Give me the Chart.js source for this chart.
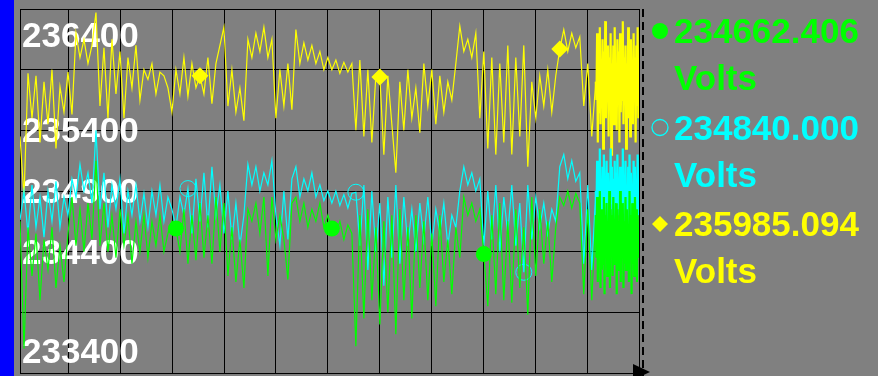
<!DOCTYPE html>
<html>
<head>
<meta charset="utf-8">
<script src="https://cdn.jsdelivr.net/npm/chart.js@4"></script>
<style>
    html, body { margin: 0; padding: 0; background: #808080; }
    canvas { display: block; }
</style>
</head>
<body>
<canvas id="voltChart" width="878" height="376"></canvas>
<script>
// tick labels written inside the plot (233900 / 235900 have no label)
const yTickLabels = ['236400', '235400', '234900', '234400', '233400'];
const seriesNames = ['Phase A', 'Phase B', 'Phase C'];
const legendValues = ['234662.406', '234840.000', '235985.094'];
const legendUnit = 'Volts';

// readings, one every sample up to the burst at the right edge
const greenValues = [
    234650, 233600, 234600, 234200, 234550, 234000, 234500, 234250, 234600, 234100,
    234450, 234150, 234550, 234850, 234450, 234750, 234400, 234800, 234500, 235150,
    234450, 234800, 234400, 234700, 234350, 234750, 234450, 234700, 234300, 234650,
    234400, 234700, 234350, 234650, 234450, 234700, 234400, 234550, 234650, 234590,
    234400, 234750, 234300, 234700, 234330, 234800, 234350, 234700, 234300, 234850,
    234400, 234800, 234200, 234600, 234150, 234500, 234100, 234750, 234650, 234800,
    234550, 234850, 234200, 234850, 234500, 234700, 234500, 234170, 234800, 234850,
    234650, 234800, 234600, 234750, 234650, 234800, 234600, 234700, 234590, 234550,
    234650, 234500, 234620, 234550, 233620, 234700, 233850, 234750, 234000, 234600,
    233800, 234650, 233900, 234700, 233720, 234750, 234000, 234600, 233850, 234700,
    234100, 234650, 234000, 234550, 233950, 234700, 234150, 234500, 234050, 234600,
    234350, 234850, 234700, 234800, 234650, 234750, 234380, 233950, 234700, 234050,
    234800, 234000, 234650, 233980, 234750, 234100, 234600, 233880, 234850, 234200,
    234750, 234300, 234650, 234150, 234600, 234850, 234780, 234900, 234760, 234880,
    234800, 234050, 234750, 234000, 234700
];
const cyanValues = [
    234660, 234900, 234550, 234950, 234600, 234850, 234520, 234900, 234650, 234980,
    234600, 234850, 234700, 235000, 234850, 235120, 234900, 235050, 234800, 235400,
    234750, 235050, 234600, 234950, 234750, 235000, 234550, 234900, 234700, 234950,
    234650, 234880, 234600, 234900, 234700, 234950, 234650, 234850, 234750, 234600,
    234850, 234700, 234920, 234550, 235000, 234650, 235050, 234600, 235100, 234700,
    234950, 234550, 234900, 234500, 234800, 234450, 234700, 235120, 234950, 235100,
    234900, 235050, 234950, 235150, 234700, 234450, 234900, 234500, 235000, 235100,
    234850, 235000, 234900, 235050, 234850, 234950, 234820, 234900, 234800, 234900,
    234780, 234870, 234760, 234880, 234890, 234450, 234950, 234250, 234900, 234400,
    234800, 234120, 234850, 234350, 234950, 234300, 234850, 234450, 234750, 234400,
    234800, 234500, 234850, 234450, 234750, 234550, 234800, 234450, 234700, 234600,
    234900, 235100, 234950, 235050, 234900, 235000, 234450, 234900, 234500, 234950,
    234400, 234850, 234550, 234950, 234450, 234800, 234230, 234950, 234500, 234850,
    234600, 234800, 234550, 234750, 234650, 235100, 235200, 235000, 235150, 234980,
    235050, 234300, 234950, 234250, 234900
];
const yellowValues = [
    235350, 234850, 235870, 235500, 235850, 235300, 235800, 235450, 235900, 235250,
    235760, 235550, 235880, 235530, 236200, 236000, 236150, 235950, 236100, 236370,
    235600, 236080, 235500, 236150, 235700, 236050, 235500, 236000, 235750, 236100,
    235650, 235900, 235820, 235950, 235700, 235880, 235850, 235750, 235550, 235900,
    235700, 236000, 235680, 235950, 235750, 235850, 235700, 236000, 235620, 235950,
    236100, 236250, 235600, 235900, 235550, 235750, 235480, 236150, 236000, 236200,
    236050, 236250, 236000, 236150, 235500, 235900, 235600, 235950, 235570, 236230,
    235950, 236120, 235980, 236100, 235950, 236050, 235900, 236000, 235900, 235980,
    235870, 235960, 235880, 235950, 235400, 235980, 235350, 235900, 235300, 235850,
    235840, 235200, 235850, 235450, 235050, 235800, 235400, 235900, 235500, 235750,
    235380, 235950, 235600, 235900, 235450, 235850, 235550, 235800, 235650, 235950,
    236260, 236050, 236150, 236000, 236200, 235500, 236050, 235250, 236000, 235200,
    235950, 235300, 236100, 235200, 236000, 235350, 236100, 235100, 235800, 235500,
    235850, 235600, 235900, 235550, 235850, 236070, 236230, 236050, 236200, 236080,
    236170, 235600, 235950, 235350, 235800
];

// fast sampled burst at the right edge
const greenBurst = [
    234350, 234850, 234150, 234700, 234400, 234900, 234100, 234750, 234250, 234600,
    234300, 234850, 234050, 234700, 234450, 234800, 234200, 234650, 234350, 234900,
    234100, 234750, 234400, 234700, 234200, 234850, 234300, 234600, 234450, 234800,
    234050, 234750, 234250, 234650, 234350, 234900, 234150, 234700, 234400, 234800,
    234100, 234650, 234300, 234850, 234250, 234750, 234400, 234600, 234150, 234900,
    234350, 234700, 234050, 234800, 234300, 234650, 234200, 234850, 234450, 234750,
    234150, 234700, 234350, 234600
];
const cyanBurst = [
    234700, 235150, 234600, 235050, 234800, 235250, 234650, 234950, 234750, 235100,
    234550, 235200, 234700, 235000, 234800, 235150, 234600, 235050, 234750, 234950,
    234650, 235250, 234800, 235100, 234700, 235000, 234550, 235150, 234750, 235050,
    234650, 235200, 234800, 234950, 234700, 235100, 234600, 235050, 234750, 235250,
    234650, 235000, 234800, 235150, 234700, 234950, 234550, 235100, 234750, 235200,
    234650, 235050, 234800, 234950, 234600, 235150, 234700, 235100, 234750, 235000,
    234650, 235200, 234700, 234900
];
const yellowBurst = [
    235650, 236200, 235300, 236000, 235550, 236250, 235450, 235850, 235700, 236150,
    235250, 236050, 235600, 236300, 235500, 235900, 235750, 236100, 235350, 236000,
    235650, 236200, 235200, 235950, 235700, 236100, 235450, 236250, 235600, 235850,
    235400, 236150, 235750, 236050, 235300, 236200, 235550, 235900, 235650, 236300,
    235450, 236000, 235700, 236100, 235250, 235950, 235600, 236250, 235500, 236050,
    235350, 236150, 235750, 235900, 235450, 236200, 235650, 236000, 235300, 236100,
    235600, 236250, 235500, 235800
];

// samples that carry a marker
const greenMarkers = [39, 78, 116];
const cyanMarkers = [42, 84, 126];
const yellowMarkers = [45, 90, 135];

// x runs in grid columns (12), the first column is cut a little by the left edge
const X_MIN = 0.064;
const X_MAX = 12;
const SPARSE_STEP = 0.0771;

function buildPoints(values, burst) {
    const pts = values.map((v, i) => ({ x: X_MIN + i * SPARSE_STEP, y: v }));
    const start = pts[pts.length - 1].x;
    const step = (X_MAX - start) / burst.length;
    burst.forEach((v, k) => {
        pts.push({ x: start + (k + 1) * step, y: v });
    });
    return pts;
}

function markerRadius(list, r) {
    return (ctx) => (list.includes(ctx.dataIndex) ? r : 0);
}

// burst part is drawn heavier so it reads as a solid band
function burstWidth(values) {
    return (ctx) => (ctx.p0DataIndex >= values.length - 1 ? 2.2 : undefined);
}

const colors = ['#00ff00', '#00ffff', '#ffff00'];

const backdrop = {
    id: 'backdrop',
    beforeDraw(chart) {
        const ctx = chart.ctx;
        ctx.save();
        ctx.fillStyle = '#808080';
        ctx.fillRect(0, 0, chart.width, chart.height);
        ctx.fillStyle = '#0000ff';
        ctx.fillRect(0, 0, 14, chart.height);
        ctx.restore();
    },
};

// value labels sit inside the plot, under the traces
const insideLabels = {
    id: 'insideLabels',
    beforeDatasetsDraw(chart) {
        const { ctx, chartArea, scales } = chart;
        ctx.save();
        ctx.font = 'bold 35px "Liberation Sans", Arial, sans-serif';
        ctx.fillStyle = '#ffffff';
        ctx.textBaseline = 'alphabetic';
        yTickLabels.forEach((label) => {
            let y = scales.y.getPixelForValue(Number(label)) + 12;
            y = Math.max(chartArea.top + 38, Math.min(chartArea.bottom - 10, y));
            ctx.fillText(label, chartArea.left + 2, y);
        });
        ctx.restore();
    },
};

const sideLegend = {
    id: 'sideLegend',
    afterDraw(chart) {
        const { ctx, chartArea } = chart;
        ctx.save();

        // dashed cursor line + axis arrow
        ctx.strokeStyle = '#000000';
        ctx.lineWidth = 2;
        ctx.setLineDash([8, 5]);
        ctx.beginPath();
        ctx.moveTo(chartArea.right + 4, chartArea.top);
        ctx.lineTo(chartArea.right + 4, chart.height);
        ctx.stroke();
        ctx.setLineDash([]);
        ctx.fillStyle = '#000000';
        ctx.beginPath();
        ctx.moveTo(chartArea.right - 6, chartArea.bottom - 9);
        ctx.lineTo(chartArea.right + 11, chartArea.bottom - 1);
        ctx.lineTo(chartArea.right - 6, chartArea.bottom + 7);
        ctx.closePath();
        ctx.fill();

        ctx.font = 'bold 35px "Liberation Sans", Arial, sans-serif';
        ctx.textBaseline = 'alphabetic';
        legendValues.forEach((val, i) => {
            const base = 43 + i * 96.5;
            const mx = 660;
            const my = base - 12;
            ctx.fillStyle = colors[i];
            ctx.strokeStyle = colors[i];
            ctx.lineWidth = 1.3;
            ctx.beginPath();
            if (i === 0) {
                ctx.arc(mx, my, 8, 0, Math.PI * 2);
                ctx.fill();
            } else if (i === 1) {
                ctx.arc(mx, my, 8, 0, Math.PI * 2);
                ctx.stroke();
            } else {
                ctx.moveTo(mx, my - 8);
                ctx.lineTo(mx + 8, my);
                ctx.lineTo(mx, my + 8);
                ctx.lineTo(mx - 8, my);
                ctx.closePath();
                ctx.fill();
            }
            ctx.fillText(val, 674, base);
            ctx.fillText(legendUnit, 674, base + 47);
        });
        ctx.restore();
    },
};

const data = {
    datasets: [
        {
            label: seriesNames[0],
            data: buildPoints(greenValues, greenBurst),
            borderColor: colors[0],
            backgroundColor: colors[0],
            borderWidth: 1.2,
            segment: { borderWidth: burstWidth(greenValues) },
            pointStyle: 'circle',
            pointRadius: markerRadius(greenMarkers, 8),
            pointBorderWidth: 0,
        },
        {
            label: seriesNames[1],
            data: buildPoints(cyanValues, cyanBurst),
            borderColor: colors[1],
            backgroundColor: 'rgba(0,0,0,0)',
            borderWidth: 1.2,
            segment: { borderWidth: burstWidth(cyanValues) },
            pointStyle: 'circle',
            pointRadius: markerRadius(cyanMarkers, 8),
            pointBorderWidth: 1,
        },
        {
            label: seriesNames[2],
            data: buildPoints(yellowValues, yellowBurst),
            borderColor: colors[2],
            backgroundColor: colors[2],
            borderWidth: 1.2,
            segment: { borderWidth: burstWidth(yellowValues) },
            pointStyle: 'rectRot',
            pointRadius: markerRadius(yellowMarkers, 8.5),
            pointBorderWidth: 0,
        },
    ],
};

new Chart(document.getElementById('voltChart'), {
    type: 'line',
    data: data,
    options: {
        responsive: false,
        animation: false,
        devicePixelRatio: 1,
        layout: { padding: { left: 20, top: 9, right: 239, bottom: 3 } },
        plugins: {
            legend: { display: false },
            tooltip: { enabled: false },
        },
        elements: { line: { tension: 0 } },
        scales: {
            x: {
                type: 'linear',
                min: X_MIN,
                max: X_MAX,
                afterBuildTicks: (axis) => {
                    axis.ticks = [1, 2, 3, 4, 5, 6, 7, 8, 9, 10, 11, 12].map((v) => ({ value: v }));
                },
                ticks: { display: false },
                grid: { color: '#000000', lineWidth: 1, drawTicks: false },
                border: { color: '#000000', width: 1 },
            },
            y: {
                min: 233400,
                max: 236400,
                ticks: { display: false, stepSize: 500 },
                grid: { color: '#000000', lineWidth: 1, drawTicks: false },
                border: { color: '#000000', width: 1 },
            },
        },
    },
    plugins: [backdrop, insideLabels, sideLegend],
});
</script>
</body>
</html>
